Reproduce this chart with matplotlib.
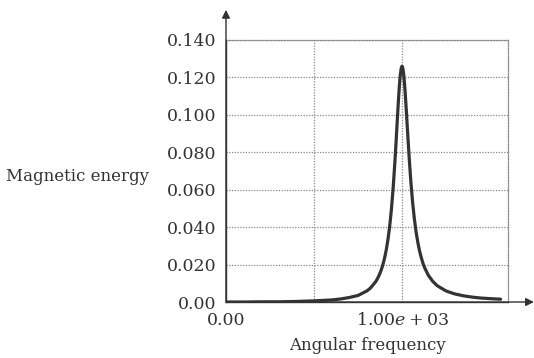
import matplotlib
matplotlib.use('Agg')
import matplotlib.pyplot as plt

plt.rcParams['font.family'] = ['DejaVu Serif']
plt.rcParams['mathtext.fontset'] = 'dejavuserif'

# values
freq = [0, 100, 200, 300, 400, 500, 600, 650, 700, 750, 800, 820, 850, 860, 870,
        880, 890, 900, 910, 920, 930, 940, 950, 960, 965, 970, 975, 980, 985,
        990, 995, 1000, 1005, 1010, 1015, 1020, 1025, 1030, 1040, 1050, 1060,
        1070, 1080, 1090, 1100, 1110, 1120, 1130, 1150, 1175, 1200, 1250, 1300,
        1350, 1400, 1450, 1500, 1560]
energy = [0.0, 0.0, 0.0001, 0.0001, 0.0003, 0.0006, 0.0011, 0.0016, 0.0024,
          0.0035, 0.0059, 0.0074, 0.0108, 0.0124, 0.0143, 0.0166, 0.0195,
          0.0231, 0.0276, 0.0333, 0.0405, 0.0498, 0.0614, 0.0756, 0.0836,
          0.0919, 0.1003, 0.1083, 0.1155, 0.1211, 0.1247, 0.1260, 0.1248,
          0.1212, 0.1157, 0.1089, 0.1013, 0.0934, 0.0780, 0.0645, 0.0534,
          0.0445, 0.0374, 0.0317, 0.0271, 0.0235, 0.0204, 0.0180, 0.0142,
          0.0110, 0.0087, 0.0059, 0.0043, 0.0033, 0.0026, 0.0021, 0.0018, 0.0015]

yticks = [0.0, 0.02, 0.04, 0.06, 0.08, 0.10, 0.12, 0.14]
ytick_labels = ['0.00', '0.020', '0.040', '0.060', '0.080', '0.100', '0.120', '0.140']
xticks = [0, 1000]
xtick_labels = ['0.00', r'$1.00e+03$']
xgrid = [500, 1000]

fig = plt.figure(figsize=(5.34, 3.58), dpi=100)
ax = fig.add_axes([0.4232, 0.1564, 0.5281, 0.7319])

ax.plot(freq, energy, color='#333333', lw=2.3, solid_joinstyle='round',
        solid_capstyle='round', zorder=3)

ax.set_xlim(0, 1602)
ax.set_ylim(0, 0.14)
ax.set_yticks(yticks)
ax.set_yticklabels(ytick_labels)
ax.set_xticks(xticks)
ax.set_xticklabels(xtick_labels)
ax.tick_params(length=0, labelsize=12.5, colors='#333333', pad=7)

# dotted grid
for v in yticks[1:]:
    ax.axhline(v, color='#888888', lw=0.9, ls=(0, (1, 1.2)), zorder=1)
for v in xgrid:
    ax.axvline(v, color='#888888', lw=0.9, ls=(0, (1, 1.2)), zorder=1)

for s in ['top', 'right']:
    ax.spines[s].set_linestyle((0, (1, 1.2)))
    ax.spines[s].set_color('#888888')
    ax.spines[s].set_linewidth(0.9)
for s in ['left', 'bottom']:
    ax.spines[s].set_color('#333333')
    ax.spines[s].set_linewidth(1.0)

# axis arrows
ax.annotate('', xy=(1.092, 0), xytext=(0, 0), xycoords='axes fraction',
            arrowprops=dict(arrowstyle='-|>', color='#333333', lw=1.0,
                            mutation_scale=12, shrinkA=0, shrinkB=0))
ax.annotate('', xy=(0, 1.115), xytext=(0, 0), xycoords='axes fraction',
            arrowprops=dict(arrowstyle='-|>', color='#333333', lw=1.0,
                            mutation_scale=12, shrinkA=0, shrinkB=0))

ax.set_xlabel('Angular frequency', fontsize=12, color='#333333', labelpad=6)
fig.text(0.146, 0.508, 'Magnetic energy', fontsize=12, color='#333333',
         ha='center', va='center')

fig.savefig('out.png', dpi=100)
